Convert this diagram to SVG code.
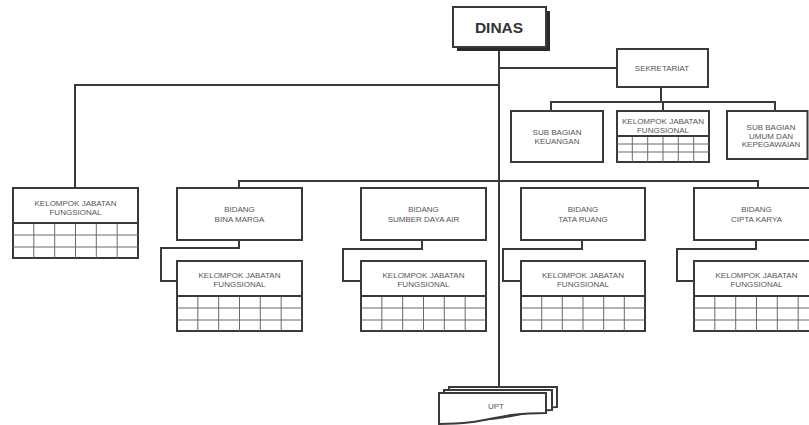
<svg xmlns="http://www.w3.org/2000/svg" width="809" height="425" viewBox="0 0 809 425">
<style>
.bg{fill:#fff}
.box{fill:#fff;stroke:#3a3a3a;stroke-width:2}
.grid{fill:none;stroke:#6a6a6a;stroke-width:1}
.hdr{fill:none;stroke:#3a3a3a;stroke-width:2}
.conn{fill:none;stroke:#3a3a3a;stroke-width:2}
.t{font-family:"Liberation Sans",Arial,sans-serif;font-size:8px;fill:#555;text-anchor:middle}
.big{font-family:"Liberation Sans",Arial,sans-serif;font-size:15.5px;font-weight:bold;fill:#333;text-anchor:middle}
</style>
<rect class="bg" x="0" y="0" width="809" height="425"/>
<g id="connectors">
<path class="conn" d="M499,47 V387"/>
<path class="conn" d="M499,68 H617"/>
<path class="conn" d="M499,85 H75 V188"/>
<path class="conn" d="M661,87 V102"/>
<path class="conn" d="M551,111 V102 H775 V111"/>
<path class="conn" d="M663,102 V111"/>
<path class="conn" d="M239,188 V181 H758 V188"/>
<path class="conn" d="M239,240 V248 H161 V281 H177"/>
<path class="conn" d="M422,240 V249 H343 V281 H361"/>
<path class="conn" d="M582,240 V249 H503 V281 H521"/>
<path class="conn" d="M756,240 V249 H677 V281 H694"/>
</g>
<g id="dinas">
<rect x="457" y="11" width="93" height="40" fill="#2a2a2a"/>
<rect class="box" x="453" y="7" width="93" height="40" stroke-width="1.5"/>
<text class="big" x="499" y="33">DINAS</text>
</g>
<g id="sekretariat">
<rect class="box" x="617" y="49" width="91" height="38"/>
<text class="t" x="662" y="71">SEKRETARIAT</text>
</g>
<g id="sub-keuangan">
<rect class="box" x="511" y="111" width="92" height="51"/>
<text class="t" x="557" y="135">SUB BAGIAN</text>
<text class="t" x="557" y="143.5">KEUANGAN</text>
</g>
<g id="kjf-sekretariat">
<rect class="box" x="617" y="111" width="92" height="51"/>
<path class="grid" d="M617,144 H709 M617,152 H709 M632.3,136 V162 M647.7,136 V162 M663,136 V162 M678.3,136 V162 M693.7,136 V162"/>
<path class="hdr" d="M617,136 H709"/>
<text class="t" x="663" y="124">KELOMPOK JABATAN</text>
<text class="t" x="663" y="132.5">FUNGSIONAL</text>
</g>
<g id="sub-umum">
<rect class="box" x="727" y="111" width="80.5" height="48"/>
<text class="t" x="771" y="130">SUB BAGIAN</text>
<text class="t" x="771" y="138.5">UMUM DAN</text>
<text class="t" x="771" y="147">KEPEGAWAIAN</text>
</g>
<g id="kjf-dinas">
<rect class="box" x="13" y="188" width="125" height="70"/>
<path class="grid" d="M13,235 H138 M13,247 H138 M33.8,223 V258 M54.7,223 V258 M75.5,223 V258 M96.3,223 V258 M117.2,223 V258"/>
<path class="hdr" d="M13,223 H138"/>
<text class="t" x="75.5" y="206">KELOMPOK JABATAN</text>
<text class="t" x="75.5" y="215">FUNGSIONAL</text>
</g>
<g id="bidang-bina-marga">
<rect class="box" x="177" y="188" width="125" height="52"/>
<text class="t" x="239.5" y="212">BIDANG</text>
<text class="t" x="239.5" y="221.5">BINA MARGA</text>
</g>
<g id="bidang-sda">
<rect class="box" x="361" y="188" width="125" height="52"/>
<text class="t" x="423.5" y="212">BIDANG</text>
<text class="t" x="423.5" y="221.5">SUMBER DAYA AIR</text>
</g>
<g id="bidang-tata-ruang">
<rect class="box" x="521" y="188" width="124" height="52"/>
<text class="t" x="583" y="212">BIDANG</text>
<text class="t" x="583" y="221.5">TATA RUANG</text>
</g>
<g id="bidang-cipta-karya">
<rect class="box" x="694" y="188" width="125" height="52"/>
<text class="t" x="756.5" y="212">BIDANG</text>
<text class="t" x="756.5" y="221.5">CIPTA KARYA</text>
</g>
<g id="kjf-bina-marga">
<rect class="box" x="177" y="261" width="125" height="70"/>
<path class="grid" d="M177,308 H302 M177,320 H302 M197.8,296 V331 M218.7,296 V331 M239.5,296 V331 M260.3,296 V331 M281.2,296 V331"/>
<path class="hdr" d="M177,296 H302"/>
<text class="t" x="239.5" y="278">KELOMPOK JABATAN</text>
<text class="t" x="239.5" y="287">FUNGSIONAL</text>
</g>
<g id="kjf-sda">
<rect class="box" x="361" y="261" width="125" height="70"/>
<path class="grid" d="M361,308 H486 M361,320 H486 M381.8,296 V331 M402.7,296 V331 M423.5,296 V331 M444.3,296 V331 M465.2,296 V331"/>
<path class="hdr" d="M361,296 H486"/>
<text class="t" x="423.5" y="278">KELOMPOK JABATAN</text>
<text class="t" x="423.5" y="287">FUNGSIONAL</text>
</g>
<g id="kjf-tata-ruang">
<rect class="box" x="521" y="261" width="124" height="70"/>
<path class="grid" d="M521,308 H645 M521,320 H645 M541.7,296 V331 M562.3,296 V331 M583,296 V331 M603.7,296 V331 M624.3,296 V331"/>
<path class="hdr" d="M521,296 H645"/>
<text class="t" x="583" y="278">KELOMPOK JABATAN</text>
<text class="t" x="583" y="287">FUNGSIONAL</text>
</g>
<g id="kjf-cipta-karya">
<rect class="box" x="694" y="261" width="125" height="70"/>
<path class="grid" d="M694,308 H819 M694,320 H819 M714.8,296 V331 M735.7,296 V331 M756.5,296 V331 M777.3,296 V331 M798.2,296 V331"/>
<path class="hdr" d="M694,296 H819"/>
<text class="t" x="756.5" y="278">KELOMPOK JABATAN</text>
<text class="t" x="756.5" y="287">FUNGSIONAL</text>
</g>
<g id="upt">
<path class="box" stroke-width="1.6" d="M449,387 H557 V407 C530,407 530,418 449,418 Z"/>
<path class="box" stroke-width="1.6" d="M444,390 H552 V410 C520,410 520,421 444,421 Z"/>
<path class="box" stroke-width="1.6" d="M439,393 H546 V413 C492,413 492,424 439,424 Z"/>
<text class="t" x="496" y="409">UPT</text>
</g>
</svg>
